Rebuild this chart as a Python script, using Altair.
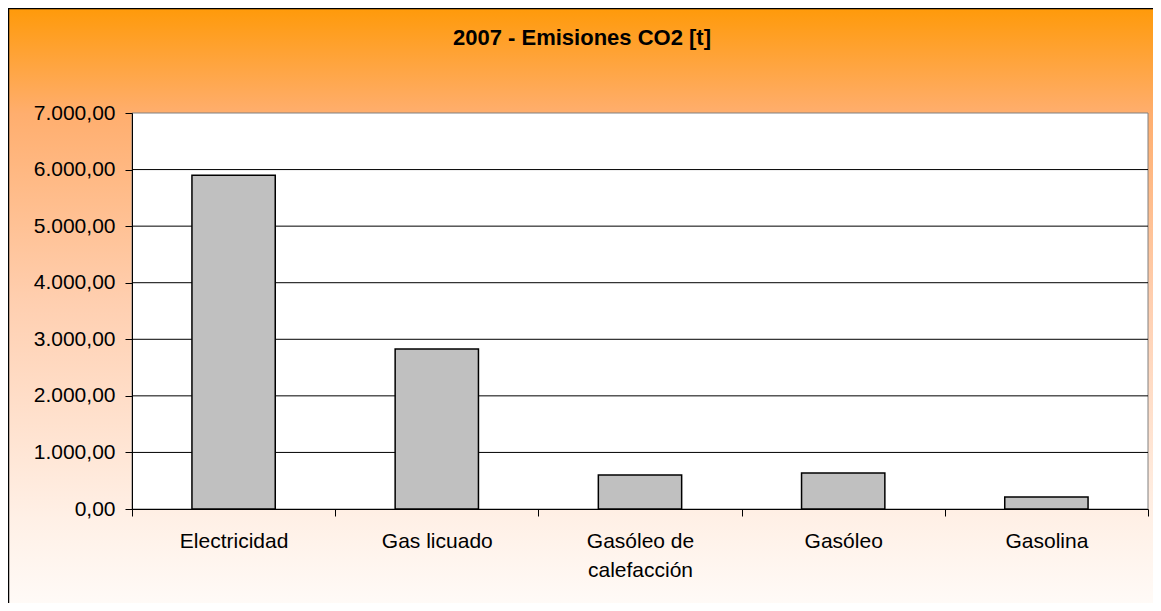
import altair as alt
import pandas as pd

# ---- data ----
categories = ["Electricidad", "Gas licuado", "Gasóleo de calefacción", "Gasóleo", "Gasolina"]
emissions = [5900, 2830, 600, 635, 210]
y_ticks = [0, 1000, 2000, 3000, 4000, 5000, 6000, 7000]
grid_values = [1000, 2000, 3000, 4000, 5000, 6000]
title_text = "2007 - Emisiones CO2 [t]"

W, H = 1016, 396
PAD = {"left": 124, "top": 105, "right": 5, "bottom": 94}
FONT = "Liberation Sans"

df = pd.DataFrame({"cat": categories, "val": emissions})
grid_df = pd.DataFrame({"v": grid_values})
one = pd.DataFrame({"k": [0]})

gradient = {
    "gradient": "linear", "x1": 0, "y1": 0, "x2": 0, "y2": 1,
    "stops": [
        {"offset": 0.0, "color": "#FF9A0A"},
        {"offset": 0.175, "color": "#FFAE6E"},
        {"offset": 0.49, "color": "#FFCFB0"},
        {"offset": 0.85, "color": "#FFF0E6"},
        {"offset": 1.0, "color": "#FFFBF8"},
    ],
}

yscale = alt.Scale(domain=[0, 7000], nice=False, zero=True)
label_expr_y = ("replace(replace(replace(format(datum.value, ',.2f'), ',', '#'), '.', ','), '#', '.')")
yaxis = alt.Axis(values=y_ticks, labelExpr=label_expr_y, tickSize=7, tickColor="black",
                 domainColor="black", domainWidth=1, labelFontSize=21, labelColor="black",
                 labelFont=FONT, labelPadding=10, grid=False, title=None, zindex=1)
xaxis = alt.Axis(tickBand="extent", tickSize=7, tickColor="black", domainColor="black",
                 domainWidth=1, labelFontSize=21, labelColor="black", labelFont=FONT,
                 labelAngle=0, labelPadding=14, labelLimit=400, labelLineHeight=29,
                 labelExpr="datum.value == 'Gasóleo de calefacción' ? ['Gasóleo de', 'calefacción'] : datum.value",
                 title=None, zindex=1)

bg = alt.Chart(one).mark_rect(fill=gradient, stroke="black", strokeWidth=1.5).encode(
    x=alt.value(-PAD["left"] + 0.5), x2=alt.value(W + PAD["right"] + 10),
    y=alt.value(-PAD["top"] + 0.5), y2=alt.value(H + PAD["bottom"] + 6))

plot_bg = alt.Chart(one).mark_rect(fill="white", stroke="#808080", strokeWidth=1).encode(
    x=alt.value(0), x2=alt.value(W), y=alt.value(0), y2=alt.value(H))

grid = alt.Chart(grid_df).mark_rule(color="black", strokeWidth=1).encode(
    y=alt.Y("v:Q", scale=yscale, axis=yaxis))

bars = alt.Chart(df).mark_bar(width=alt.RelativeBandSize(0.41), fill="#C0C0C0",
                              stroke="black", strokeWidth=1.5).encode(
    x=alt.X("cat:N", sort=categories,
            scale=alt.Scale(domain=categories, paddingInner=0, paddingOuter=0), axis=xaxis),
    y=alt.Y("val:Q", scale=yscale, axis=yaxis),
)

chart = alt.layer(bg, plot_bg, grid, bars).properties(
    width=W, height=H, padding=PAD, autosize=alt.AutoSizeParams(type="none"),
    title=alt.TitleParams(title_text, font=FONT, fontSize=22, fontWeight="bold", color="black",
                          anchor="middle", frame="group", dx=-58, dy=59, offset=0,
                          baseline="alphabetic"),
).configure_view(stroke=None)

chart.save("out.html", embed_options={"renderer": "svg", "actions": False})
